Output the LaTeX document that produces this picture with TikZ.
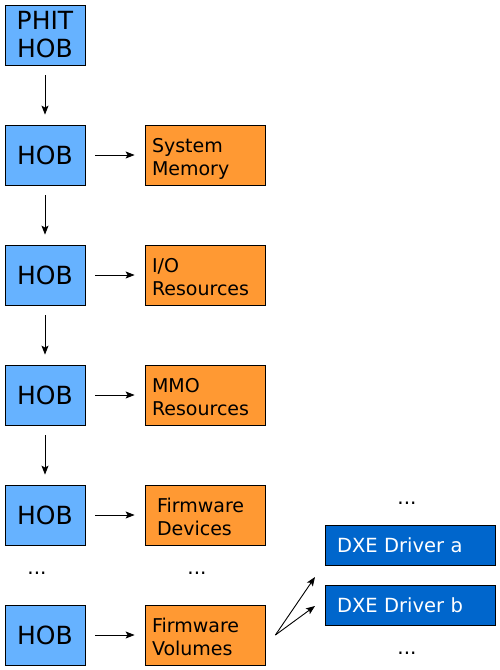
\documentclass[tikz,border=0pt]{standalone}
\usepackage{fontspec}
\setmainfont{DejaVu Sans}
\usetikzlibrary{positioning,arrows.meta}
\definecolor{hobblue}{RGB}{102,178,255}
\definecolor{resorange}{RGB}{255,153,51}
\definecolor{dxeblue}{RGB}{0,102,204}
\tikzset{
    hob/.style={draw=black, line width=0.8pt, fill=hobblue, minimum width=80pt, minimum height=60pt,
        inner sep=0pt, align=center, font=\fontsize{25}{28}\selectfont},
    res/.style={draw=black, line width=0.8pt, fill=resorange, minimum height=60pt, inner ysep=0pt,
        inner xsep=7pt, text width=106pt, align=left, font=\fontsize{19}{23}\selectfont,
        execute at begin node=\rule{0pt}{21pt}, execute at end node=\vphantom{y}},
    dxe/.style={draw=black, line width=0.8pt, fill=dxeblue, text=white, minimum height=40pt, inner ysep=0pt,
        inner xsep=12pt, text width=146pt, align=left, font=\fontsize{19.5}{23}\selectfont},
    dots/.style={inner sep=0pt, font=\fontsize{20}{24}\selectfont},
    arr/.style={-{Stealth[length=9pt,width=7pt,inset=2pt]}, line width=0.9pt,
        shorten >=10pt, shorten <=10pt}
}
\begin{document}
\begin{tikzpicture}[x=1pt,y=-1pt]
    \useasboundingbox (0,0) rectangle (500,670);

    %HOB list
    \node[hob] (h0) at (45,35) {PHIT\\HOB};
    \foreach \i [remember=\i as \j (initially 0)] in {1,...,5}{
        \node[hob, below=59.2pt of h\j] (h\i) {HOB};
    }
    \foreach \i/\j in {0/1,1/2,2/3,3/4}{
        \draw[arr] (h\i) -- (h\j);
    }

    %resources described by each HOB
    \node[res, right=59.2pt of h1] (sysmem) {System\\Memory};
    \node[res, right=59.2pt of h2] (io) {I/O\\Resources};
    \node[res, right=59.2pt of h3] (mmo) {MMO\\Resources};
    \node[res, right=59.2pt of h4] (fwdev) {\hspace*{5pt}Firmware\\\hspace*{5pt}Devices};
    \node[res, right=59.2pt of h5] (fwvol) {Firmware\\Volumes};
    \foreach \h/\r in {h1/sysmem,h2/io,h3/mmo,h4/fwdev,h5/fwvol}{
        \draw[arr] (\h) -- (\r);
    }

    %more of the same
    \node[dots] (hdots) at (37,573) {...};
    \node[dots] (rdots) at (197,573) {...};

    %drivers found in the firmware volumes
    \node[dxe] (drva) at (410,545) {DXE Driver a};
    \node[dxe] (drvb) at (410,605) {DXE Driver b};
    \node[dots] (dtop) at (407,503) {...};
    \node[dots] (dbot) at (407,653) {...};

    \coordinate (fvout) at ([xshift=10pt]fwvol.east);
    \coordinate (tipa) at (315,577);
    \coordinate (tipb) at (315,606);
    \draw[arr, shorten <=0pt, shorten >=0pt] (fvout) -- (tipa);
    \draw[arr, shorten <=0pt, shorten >=0pt] (fvout) -- (tipb);
\end{tikzpicture}
\end{document}
